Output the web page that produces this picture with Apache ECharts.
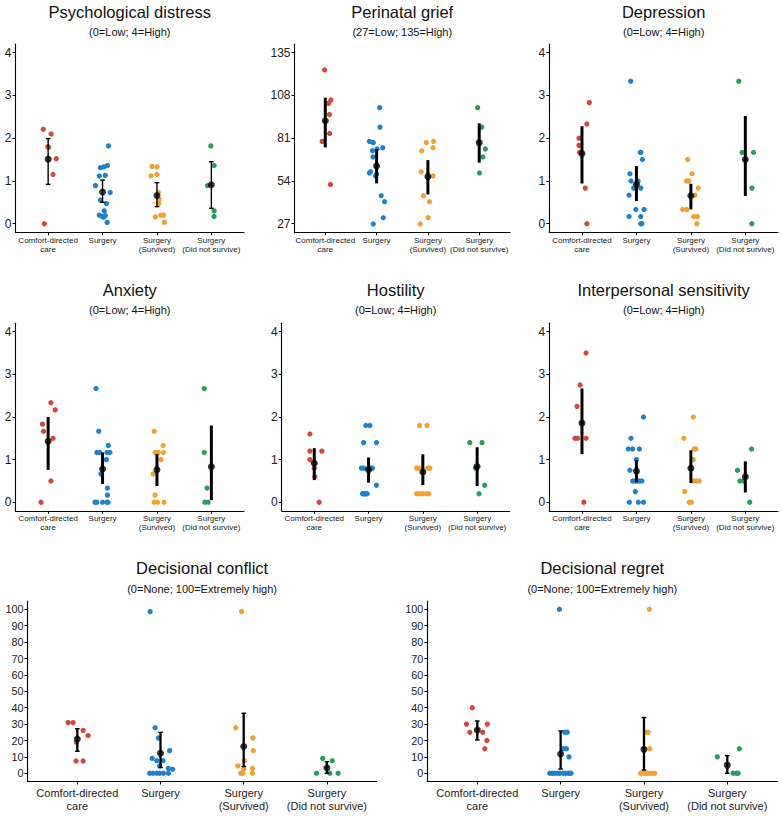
<!DOCTYPE html>
<html>
<head>
<meta charset="utf-8">
<script src="https://cdn.jsdelivr.net/npm/echarts/dist/echarts.min.js"></script>
<style>html,body{margin:0;padding:0;background:#fff;}#c{width:782px;height:816px;}</style>
</head>
<body>
<div id="c"></div>
<script>
// ---------- DATA ----------
const groups = ['Comfort-directed\ncare', 'Surgery', 'Surgery\n(Survived)', 'Surgery\n(Did not survive)'];
const groupColors = ['#d1493b', '#1f80cc', '#f0a035', '#2a9d5a'];

const ticks04 = [0, 1, 2, 3, 4];
const ticksGrief = [27, 54, 81, 108, 135];
const ticks100 = [0, 10, 20, 30, 40, 50, 60, 70, 80, 90, 100];

// Psychological distress
const psychVals = [
  [2.21, 2.10, 1.80, 1.79, 1.52, 1.15, 0],
  [1.82, 1.36, 1.33, 1.31, 1.13, 1.115, 0.89, 0.73, 0.55, 0.47, 0.30, 0.20, 0.17, 0.19, 0.15, 0.03],
  [1.34, 1.33, 1.12, 1.15, 0.73, 0.57, 0.47, 0.16, 0.20, 0.20, 0.03],
  [1.82, 1.36, 0.89, 0.30, 0.17]
];
const psychJit = [
  [-0.09, 0.055, -0.006, 0.01, 0.15, 0.09, -0.07],
  [0.11, 0.09, 0.025, -0.04, 0.05, -0.06, -0.13, 0.14, -0.04, 0.07, 0.03, -0.06, -0.01, 0.05, 0.02, 0.085],
  [-0.09, 0, -0.11, 0, 0.025, 0.04, 0.03, -0.03, 0.07, 0.12, 0.135],
  [-0.01, 0.05, -0.07, 0.05, 0.05]
];
const psychMean = [1.51, 0.74, 0.66, 0.91];
const psychLo = [0.92, 0.50, 0.40, 0.36];
const psychHi = [1.99, 1.02, 0.96, 1.45];

// Perinatal grief
const griefVals = [
  [124.1, 105.1, 103, 96, 84, 79, 51.8],
  [100.3, 88, 79, 78.2, 75, 74.2, 73.1, 69.1, 59.8, 59, 58.3, 57.1, 44.7, 40.9, 30.8, 26.8],
  [79, 78.2, 75, 73.1, 59.8, 58.3, 57.1, 44.7, 40.9, 30.8, 26.8],
  [100.3, 88, 74.2, 69.1, 59]
];
const griefJit = [
  [-0.013, 0.11, 0.065, 0.08, 0.085, -0.06, 0.1],
  [0.06, 0.065, -0.14, -0.065, 0.12, 0.01, -0.08, -0.07, -0.12, -0.14, 0, -0.02, 0.09, 0.155, 0.13, -0.065],
  [0.11, -0.03, 0.1, -0.12, -0.13, 0, 0.1, -0.085, 0.03, 0.005, -0.15],
  [-0.03, 0.05, 0.12, 0.07, 0.005]
];
const griefMean = [92, 63.4, 56.7, 78.2];
const griefLo = [75.2, 52.5, 45.5, 65.5];
const griefHi = [106.6, 74.2, 67.2, 90.4];

// Depression
const depVals = [
  [2.833, 2.333, 2.0, 1.833, 1.667, 0.833, 0],
  [3.333, 1.667, 1.667, 1.5, 1.167, 1.0, 1.0, 0.833, 0.833, 0.667, 0.333, 0.333, 0.167, 0.167, 0, 0],
  [1.5, 1.167, 1.0, 1.0, 0.833, 0.667, 0.333, 0.333, 0.167, 0.167, 0],
  [3.333, 1.667, 1.667, 0.833, 0]
];
const depJit = [
  [0.135, 0.09, -0.055, -0.055, -0.045, 0.06, 0.09],
  [-0.105, 0.08, 0.07, 0.11, -0.12, -0.1, 0.03, -0.05, 0.08, -0.135, -0.01, 0.14, -0.135, 0.08, 0.08, 0.1],
  [-0.06, 0.02, -0.08, -0.04, 0.135, 0.075, -0.15, -0.075, 0.05, 0.12, 0.11],
  [-0.12, -0.06, 0.15, 0.12, 0.12]
];
const depMean = [1.64, 0.92, 0.655, 1.5];
const depLo = [0.94, 0.53, 0.335, 0.65];
const depHi = [2.28, 1.35, 0.935, 2.52];

// Anxiety
const anxVals = [
  [2.333, 2.167, 1.833, 1.667, 1.5, 0.5, 0],
  [2.667, 1.667, 1.333, 1.167, 1.167, 1.167, 1.167, 1.0, 0.667, 0.333, 0.167, 0, 0, 0, 0, 0],
  [1.667, 1.333, 1.167, 1.167, 1.167, 1.0, 0.667, 0.167, 0, 0, 0],
  [2.667, 1.167, 0.333, 0, 0]
];
const anxJit = [
  [0.05, 0.13, -0.105, -0.085, 0.09, 0.05, -0.13],
  [-0.12, -0.07, 0.105, -0.105, -0.055, 0.08, 0.135, 0.07, -0.03, 0.09, 0.09, -0.14, -0.105, 0, 0.08, 0.1],
  [-0.05, 0.115, -0.035, 0.025, 0.12, 0.075, -0.07, -0.035, -0.05, 0.01, 0.13],
  [-0.13, -0.13, -0.08, -0.12, -0.06]
];
const anxMean = [1.43, 0.78, 0.76, 0.833];
const anxLo = [0.76, 0.43, 0.38, 0.05];
const anxHi = [2.0, 1.17, 1.13, 1.8];

// Hostility
const hosVals = [
  [1.6, 1.2, 1.2, 1.0, 0.8, 0.6, 0],
  [1.8, 1.8, 1.4, 1.4, 0.8, 0.8, 0.8, 0.8, 0.8, 0.4, 0.2, 0.2, 0.2, 0.2, 0.2, 0.2],
  [1.8, 1.8, 0.8, 0.8, 0.8, 0.8, 0.2, 0.2, 0.2, 0.2, 0.2],
  [1.4, 1.4, 0.8, 0.4, 0.2]
];
const hosJit = [
  [-0.08, -0.08, 0.14, -0.08, 0, 0.01, 0.09],
  [-0.05, 0.025, -0.09, 0.145, -0.13, -0.09, 0, 0.04, 0.07, 0.145, -0.11, -0.08, -0.05, -0.025, -0.1, -0.065],
  [-0.06, 0.075, -0.115, -0.08, 0.09, 0.13, -0.115, -0.055, 0.07, 0.11, 0],
  [-0.135, 0.09, -0.03, 0.14, 0.035]
];
const hosMean = [0.914, 0.76, 0.71, 0.84];
const hosLo = [0.52, 0.46, 0.40, 0.38];
const hosHi = [1.27, 1.05, 1.125, 1.29];

// Interpersonal sensitivity
const intVals = [
  [3.5, 2.75, 2.25, 1.5, 1.5, 1.5, 0],
  [2.0, 1.5, 1.25, 1.25, 1.25, 1.0, 0.75, 0.5, 0.5, 0.5, 0.5, 0.5, 0.25, 0, 0, 0],
  [2.0, 1.5, 1.25, 1.25, 1.0, 0.5, 0.5, 0.5, 0.25, 0, 0],
  [1.25, 0.75, 0.5, 0.5, 0]
];
const intJit = [
  [0.075, -0.035, -0.09, -0.13, -0.08, 0.075, 0.035],
  [0.13, -0.1, -0.15, -0.07, 0.055, 0, -0.12, -0.07, -0.025, 0.01, 0.055, 0.1, -0.02, -0.13, 0.035, 0.13],
  [0.045, -0.13, 0.06, 0.09, 0.045, 0.06, 0.11, 0.155, -0.115, -0.03, 0.01],
  [0.115, -0.145, -0.1, -0.03, 0.08]
];
const intMean = [1.857, 0.73, 0.8, 0.6];
const intLo = [1.13, 0.47, 0.45, 0.23];
const intHi = [2.67, 0.99, 1.22, 0.96];

// Decisional conflict
const dcVals = [
  [30.9, 30.9, 26.2, 23, 18.9, 7.5, 7.5],
  [98.6, 27.8, 21.5, 13.8, 9.1, 7.7, 7.7, 4.5, 3, 2.5, 0, 0, 0, 0, 0, 0],
  [98.6, 27.8, 21.5, 13.8, 7.7, 4.5, 3, 2.5, 0, 0, 0],
  [9.1, 7.7, 0, 0, 0]
];
const dcJit = [
  [-0.11, -0.05, 0.07, 0.13, -0.01, -0.015, 0.07],
  [-0.125, -0.065, -0.025, 0.11, -0.1, -0.045, 0.03, -0.01, 0.095, 0.145, -0.13, -0.09, -0.045, -0.01, 0.035, 0.095],
  [-0.025, -0.095, 0.11, 0.115, 0.01, -0.07, 0.105, 0, -0.035, -0.01, 0.105],
  [-0.05, 0.065, -0.125, 0.035, 0.135]
];
const dcMean = [20.9, 12.2, 16.3, 3.4];
const dcLo = [13.4, 3.5, 4.1, 0];
const dcHi = [27.2, 25, 36.6, 7.1];

// Decisional regret
const drVals = [
  [40, 30, 30, 25, 25, 20, 15],
  [100, 25, 25, 15, 15, 10, 0, 0, 0, 0, 0, 0, 0, 0, 0, 0],
  [100, 25, 25, 15, 0, 0, 0, 0, 0, 0, 0],
  [10, 15, 0, 0, 0]
];
const drJit = [
  [-0.06, -0.13, 0.12, -0.09, 0.065, 0.115, 0.09],
  [-0.015, 0.05, 0.08, 0.03, 0.07, 0.1, -0.13, -0.1, -0.07, -0.04, -0.01, 0.03, 0.06, 0.09, 0.11, 0.125],
  [0.065, 0.02, 0.05, 0.07, -0.04, -0.01, 0.015, 0.04, 0.07, 0.1, 0.13],
  [-0.12, 0.145, 0.07, 0.11, 0.13]
];
const drMean = [26.4, 11.8, 14.6, 5];
const drLo = [20.3, 2.6, 2, 0];
const drHi = [31.9, 25.8, 34, 10.8];

const titles = ['Psychological distress', 'Perinatal grief', 'Depression', 'Anxiety', 'Hostility',
  'Interpersonal sensitivity', 'Decisional conflict', 'Decisional regret'];
const subtitles = ['(0=Low; 4=High)', '(27=Low; 135=High)', '(0=Low; 4=High)', '(0=Low; 4=High)',
  '(0=Low; 4=High)', '(0=Low; 4=High)', '(0=None; 100=Extremely high)', '(0=None; 100=Extremely high)'];

// ---------- BUILD ----------
const panels = [
  {vals: psychVals, jit: psychJit, mean: psychMean, lo: psychLo, hi: psychHi, ticks: ticks04},
  {vals: griefVals, jit: griefJit, mean: griefMean, lo: griefLo, hi: griefHi, ticks: ticksGrief},
  {vals: depVals, jit: depJit, mean: depMean, lo: depLo, hi: depHi, ticks: ticks04},
  {vals: anxVals, jit: anxJit, mean: anxMean, lo: anxLo, hi: anxHi, ticks: ticks04},
  {vals: hosVals, jit: hosJit, mean: hosMean, lo: hosLo, hi: hosHi, ticks: ticks04},
  {vals: intVals, jit: intJit, mean: intMean, lo: intLo, hi: intHi, ticks: ticks04},
  {vals: dcVals, jit: dcJit, mean: dcMean, lo: dcLo, hi: dcHi, ticks: ticks100},
  {vals: drVals, jit: drJit, mean: drMean, lo: drLo, hi: drHi, ticks: ticks100}
];

// layout (pixels)
const layout = [
  {left: 15.5, top: 44.15, width: 228.5, height: 188.1, tY: 11.5, sY: 32, row: 0, caps: true, bw: 1.4},
  {left: 294.5, top: 44.15, width: 215.5, height: 188.1, tY: 11.5, sY: 32, row: 0, caps: false, bw: 3},
  {left: 549.3, top: 44.15, width: 228.7, height: 188.1, tY: 11.5, sY: 32, row: 0, caps: false, bw: 3},
  {left: 15.5, top: 323.2, width: 228.5, height: 187.6, tY: 290, sY: 309.5, row: 1, caps: false, bw: 3},
  {left: 281.7, top: 323.2, width: 228, height: 187.6, tY: 290, sY: 309.5, row: 1, caps: false, bw: 3},
  {left: 549.3, top: 323.2, width: 228.7, height: 187.6, tY: 290, sY: 309.5, row: 1, caps: false, bw: 3},
  {left: 27.4, top: 601.1, width: 349.4, height: 180.4, tY: 567.5, sY: 589, row: 2, caps: true, bw: 2.3},
  {left: 427.3, top: 601.1, width: 350, height: 180.4, tY: 567.5, sY: 589, row: 2, caps: true, bw: 2.3}
];

const FF = '"Liberation Sans", Arial, Helvetica, sans-serif';
const grids = [], xAxes = [], yAxes = [], series = [], graphics = [];

panels.forEach((p, i) => {
  const L = layout[i];
  const big = L.row === 2;
  grids.push({left: L.left, top: L.top, width: L.width, height: L.height});
  const t0 = p.ticks[0], t1 = p.ticks[p.ticks.length - 1], span = t1 - t0;
  xAxes.push({
    type: 'value', gridIndex: i, min: 0.4, max: 4.6,
    splitLine: {show: false},
    axisLine: {show: true, onZero: false, lineStyle: {color: '#000', width: 1.1}},
    axisTick: {show: true, customValues: [1, 2, 3, 4], length: 3, lineStyle: {color: '#000', width: 1}},
    axisLabel: {
      customValues: [1, 2, 3, 4],
      formatter: v => groups[Math.round(v) - 1],
      fontFamily: FF, fontSize: big ? 11 : 8, lineHeight: big ? 13 : 9, color: '#1a1a1a', margin: big ? 5 : 3.5
    }
  });
  yAxes.push({
    type: 'value', gridIndex: i, min: t0 - 0.05 * span, max: t1 + 0.05 * span,
    splitLine: {show: false},
    axisLine: {show: true, onZero: false, lineStyle: {color: '#000', width: 1.1}},
    axisTick: {show: true, customValues: p.ticks, length: 3, lineStyle: {color: '#000', width: 1}},
    axisLabel: {customValues: p.ticks, fontFamily: FF, fontSize: big ? 10.8 : 12, color: '#1a1a1a', margin: 4}
  });
  // jittered points
  p.vals.forEach((arr, g) => {
    series.push({
      type: 'scatter', xAxisIndex: i, yAxisIndex: i, symbol: 'circle', symbolSize: 5.3,
      itemStyle: {color: groupColors[g], opacity: 1}, silent: true, z: 2,
      data: arr.map((v, k) => [g + 1 + p.jit[g][k], v])
    });
  });
  // error bars
  const caps = L.caps, bw = L.bw;
  series.push({
    type: 'custom', xAxisIndex: i, yAxisIndex: i, z: 3, silent: true,
    encode: {x: 0, y: [1, 2]},
    data: p.mean.map((m, g) => [g + 1, p.lo[g], p.hi[g]]),
    renderItem: (params, api) => {
      const x = api.value(0);
      const a = api.coord([x, api.value(1)]);
      const b = api.coord([x, api.value(2)]);
      const st = {stroke: '#000', lineWidth: bw};
      const ch = [{type: 'line', shape: {x1: a[0], y1: a[1], x2: b[0], y2: b[1]}, style: st}];
      if (caps) {
        const h = 2.3;
        ch.push({type: 'line', shape: {x1: a[0] - h, y1: a[1], x2: a[0] + h, y2: a[1]}, style: {stroke: '#000', lineWidth: 1.4}});
        ch.push({type: 'line', shape: {x1: b[0] - h, y1: b[1], x2: b[0] + h, y2: b[1]}, style: {stroke: '#000', lineWidth: 1.4}});
      }
      return {type: 'group', children: ch};
    }
  });
  // means
  series.push({
    type: 'scatter', xAxisIndex: i, yAxisIndex: i, symbol: 'circle', symbolSize: 7, z: 4, silent: true,
    itemStyle: {color: '#000'},
    data: p.mean.map((m, g) => [g + 1, m])
  });
  const cx = L.left + L.width / 2;
  graphics.push({type: 'text', x: cx, y: L.tY, silent: true,
    style: {text: titles[i], fontSize: 16.5, fontFamily: FF, fill: '#111', align: 'center', verticalAlign: 'middle'}});
  graphics.push({type: 'text', x: cx, y: L.sY, silent: true,
    style: {text: subtitles[i], fontSize: 11, fontFamily: FF, fill: '#111', align: 'center', verticalAlign: 'middle'}});
});

const chart = echarts.init(document.getElementById('c'), null, {renderer: 'svg'});
chart.setOption({
  animation: false,
  backgroundColor: '#fff',
  grid: grids, xAxis: xAxes, yAxis: yAxes, series: series, graphic: graphics
});
</script>
</body>
</html>
